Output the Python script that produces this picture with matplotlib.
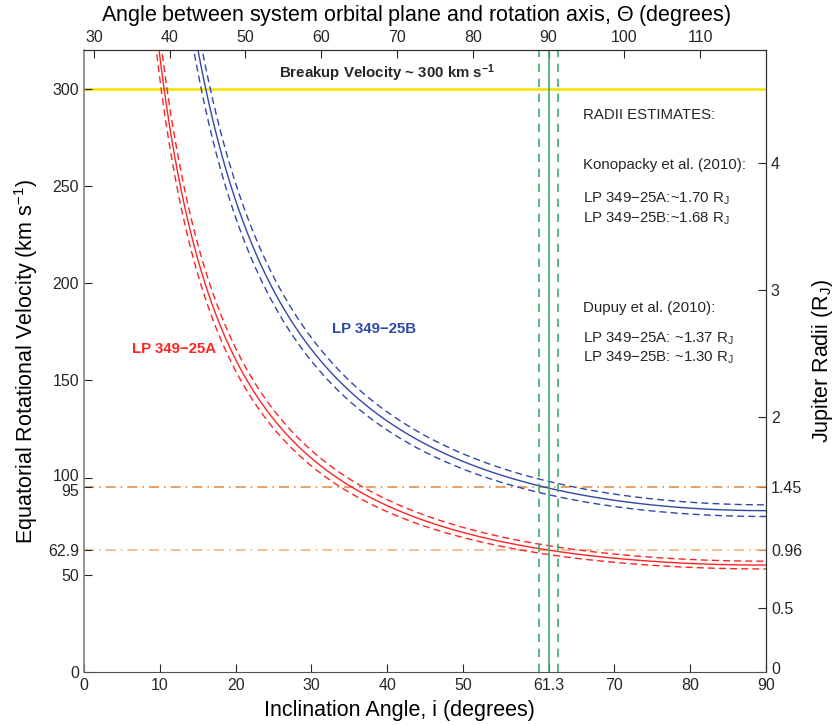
import numpy as np
import matplotlib
matplotlib.use("Agg")
import matplotlib.pyplot as plt
from matplotlib.transforms import ScaledTranslation

plt.rcParams["font.family"] = ["Liberation Sans", "DejaVu Sans"]
plt.rcParams["mathtext.default"] = "regular"
plt.rcParams["text.color"] = "#262626"
plt.rcParams["xtick.color"] = "#262626"
plt.rcParams["ytick.color"] = "#262626"

# measured v sin i (km/s) and 1-sigma errors
vsini_a, err_a = 55.0, 2.0
vsini_b, err_b = 83.0, 3.0
incl_sys, incl_err = 61.3, 1.3
v_at_incl_a = 62.9
v_at_incl_b = 95.0
v_breakup = 300.0
v_per_rj = 65.5          # km/s per Jupiter radius (right axis scale)
theta_offset = 28.7      # top axis: angle = i + offset

x_ticks = [0, 10, 20, 30, 40, 50, 61.3, 70, 80, 90]
x_tick_labels = ["0", "10", "20", "30", "40", "50", "61.3", "70", "80", "90"]
y_ticks = [0, 50, 62.9, 95, 100, 150, 200, 250, 300]
y_tick_labels = ["0", "50", "62.9", "95", "100", "150", "200", "250", "300"]
r_ticks = [0, 0.5, 0.96, 1.45, 2, 3, 4]
r_tick_labels = ["0", "0.5", "0.96", "1.45", "2", "3", "4"]
theta_ticks = [30, 40, 50, 60, 70, 80, 90, 100, 110]

RED = "#ff2424"
BLUE = "#3048a8"
GREEN = "#3daa6e"


def nudge(label, dy_pt):
    label.set_transform(label.get_transform() + ScaledTranslation(0, dy_pt / 72, fig.dpi_scale_trans))


fig = plt.figure(figsize=(8.36, 7.25), dpi=100)
ax = fig.add_axes([0.1005, 0.0731, 0.8158, 0.858])

incl = np.linspace(0.5, 90, 800)
s = np.sin(np.radians(incl))

for vs, er, col in [(vsini_a, err_a, RED), (vsini_b, err_b, BLUE)]:
    ax.plot(incl, vs / s, color=col, lw=1.0)
    ax.plot(incl, (vs + er) / s, color=col, lw=1.0, ls=(0, (5, 3)))
    ax.plot(incl, (vs - er) / s, color=col, lw=1.0, ls=(0, (5, 3)))

ax.axhline(v_breakup, color="#f2e414", lw=2.0, zorder=1)
ax.axhline(v_at_incl_b, color="#e0904c", lw=1.2, ls=(0, (6, 3, 1, 3)), zorder=1)
ax.axhline(v_at_incl_a, color="#f2b685", lw=1.2, ls=(0, (6, 3, 1, 3)), zorder=1)

ax.axvline(incl_sys, color=GREEN, lw=1.2)
ax.axvline(incl_sys - incl_err, color=GREEN, lw=1.2, ls=(0, (5, 4)))
ax.axvline(incl_sys + incl_err, color=GREEN, lw=1.2, ls=(0, (5, 4)))

ax.set_xlim(0, 90)
ax.set_ylim(0, 320)
ax.set_xticks(x_ticks)
ax.set_xticklabels(x_tick_labels)
ax.set_yticks(y_ticks)
ax.set_yticklabels(y_tick_labels)
ax.tick_params(direction="in", length=6, labelsize=11.5)
ax.tick_params(axis="x", pad=4)
ax.spines["left"].set_color("#808080")
ax.spines["left"].set_linewidth(1.2)
ax.spines["bottom"].set_color("#505050")
ax.spines["top"].set_color("#303030")
ax.spines["right"].set_color("#303030")

# pull the crowded 95 / 100 labels apart a little, as in the original
for lab in ax.get_yticklabels():
    if lab.get_text() == "100":
        nudge(lab, 2)
    elif lab.get_text() == "95":
        nudge(lab, -2)

ax.set_xlabel("Inclination Angle, i (degrees)", fontsize=15.5)
ax.xaxis.set_label_coords(0.463, -0.045)
ax.set_ylabel("Equatorial Rotational Velocity (km s$^{-1}$)", fontsize=15.5, labelpad=6)

top = ax.secondary_xaxis("top", functions=(lambda x: x + theta_offset, lambda t: t - theta_offset))
top.set_xticks(theta_ticks)
top.tick_params(direction="in", length=6, labelsize=11.5)
top.set_xlabel("Angle between system orbital plane and rotation axis, $\\Theta$ (degrees)",
               fontsize=15.5)
top.xaxis.set_label_coords(0.487, 1.047, transform=ax.transAxes)

right = ax.secondary_yaxis("right", functions=(lambda v: v / v_per_rj, lambda r: r * v_per_rj))
right.set_yticks(r_ticks)
right.set_yticklabels(r_tick_labels)
right.tick_params(direction="in", length=6, labelsize=11.5)
right.set_ylabel("Jupiter Radii (R$_J$)", fontsize=15.5, labelpad=6)
for lab in right.get_yticklabels():
    if lab.get_text() == "0":
        nudge(lab, 3)

ax.text(40, 308, "Breakup Velocity ~ 300 km s$^{-1}$", fontsize=10.8, fontweight="bold",
        ha="center", va="center")
ax.text(32.7, 176.6, "LP 349\u221225B", color=BLUE, fontsize=10.8, fontweight="bold", va="center")
ax.text(6.3, 166, "LP 349\u221225A", color=RED, fontsize=10.8, fontweight="bold", va="center")

notes = [
    (286.7, "RADII ESTIMATES:"),
    (260.6, "Konopacky et al. (2010):"),
    (243.2, "LP 349\u221225A:~1.70 R$_J$"),
    (232.9, "LP 349\u221225B:~1.68 R$_J$"),
    (187.1, "Dupuy et al. (2010):"),
    (171.6, "LP 349\u221225A: ~1.37 R$_J$"),
    (161.5, "LP 349\u221225B: ~1.30 R$_J$"),
]
for y, txt in notes:
    ax.text(65.8, y, txt, fontsize=10.8, va="center", ha="left")

fig.savefig("out.png", dpi=100)
